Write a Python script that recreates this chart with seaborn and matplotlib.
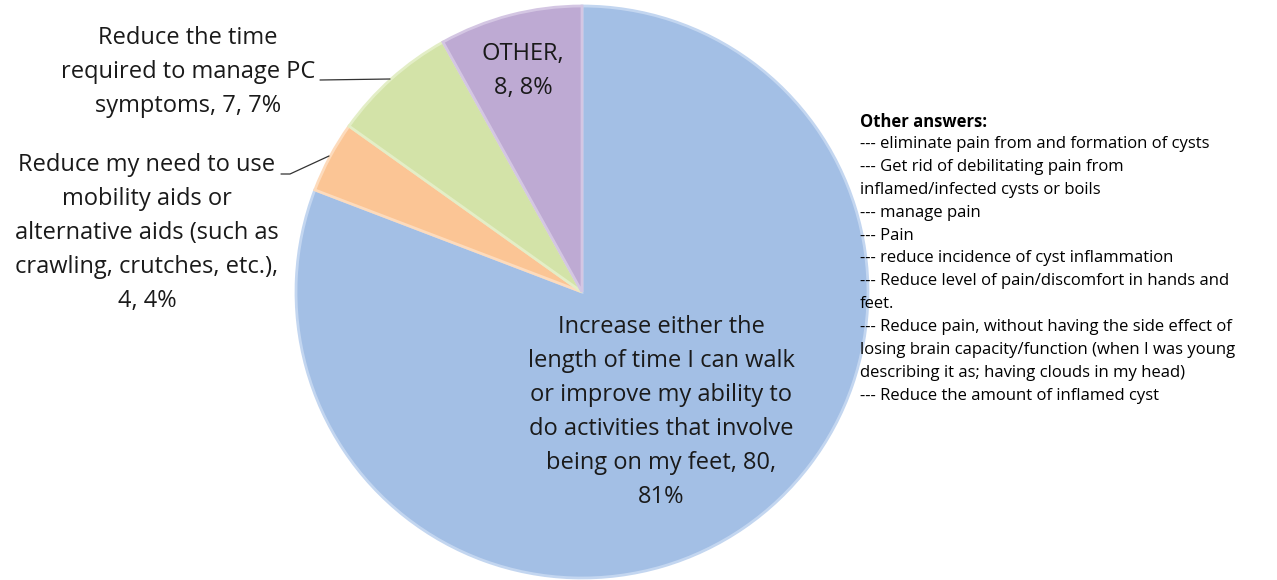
import matplotlib
matplotlib.use('Agg')
import seaborn as sns
from matplotlib import pyplot as plt

sns.set_theme(style='white')
plt.rcParams['font.family'] = ['Open Sans', 'DejaVu Sans']

# data
labels = ['Increase either the\nlength of time I can walk\nor improve my ability to\ndo activities that involve\nbeing on my feet, 80,\n81%',
          'Reduce my need to use\nmobility aids or\nalternative aids (such as\ncrawling, crutches, etc.),\n4, 4%',
          'Reduce the time\nrequired to manage PC\nsymptoms, 7, 7%',
          'OTHER,\n8, 8%']
counts = [80, 4, 7, 8]
colors = ['#A3BFE5', '#FBC595', '#D3E3A8', '#BEAAD3']
edges = ['#C3D6F0', '#FDDBBC', '#E3EEC6', '#D4C6E3']

other_answers = ['--- eliminate pain from and formation of cysts',
                 '--- Get rid of debilitating pain from',
                 'inflamed/infected cysts or boils',
                 '--- manage pain',
                 '--- Pain',
                 '--- reduce incidence of cyst inflammation',
                 '--- Reduce level of pain/discomfort in hands and',
                 'feet.',
                 '--- Reduce pain, without having the side effect of',
                 'losing brain capacity/function (when I was young',
                 'describing it as; having clouds in my head)',
                 '--- Reduce the amount of inflamed cyst']

W, H = 1277, 580
fig = plt.figure(figsize=(W / 100, H / 100), dpi=100)
fig.patch.set_facecolor('white')


def px(x, y):
    return x / W, 1 - y / H


cx, cy, r = 582, 292, 286
ax = fig.add_axes([(cx - r) / W, (H - cy - r) / H, 2 * r / W, 2 * r / H])
wedges, _ = ax.pie(counts, colors=colors, startangle=90, counterclock=False,
                   wedgeprops=dict(linewidth=2))
for w, e in zip(wedges, edges):
    w.set_edgecolor(e)
ax.set_xlim(-1, 1)
ax.set_ylim(-1, 1)
ax.set_aspect('equal')
ax.axis('off')

tc = '#1a1a1a'
fs = 17
ls = 1.55
# inside labels
fig.text(*px(661, 412), labels[0], ha='center', va='center', fontsize=fs,
         color=tc, linespacing=ls)
fig.text(*px(523, 71), labels[3], ha='center', va='center', fontsize=fs,
         color=tc, linespacing=ls)
# outside labels
fig.text(*px(188, 72), labels[2], ha='center', va='center', fontsize=fs,
         color=tc, linespacing=ls)
fig.text(*px(147, 233), labels[1], ha='center', va='center', fontsize=fs,
         color=tc, linespacing=ls)

# leader lines
fig.add_artist(plt.Line2D([320 / W, 390 / W], [1 - 80 / H, 1 - 79 / H],
                          color='#333333', lw=0.9))
fig.add_artist(plt.Line2D([281 / W, 290 / W, 329 / W],
                          [1 - 174 / H, 1 - 174 / H, 1 - 156 / H],
                          color='#333333', lw=0.9))

# other answers block
fig.text(*px(860, 122), 'Other answers:', ha='left', va='center',
         fontsize=12, fontweight='bold', color='black')
for i, line in enumerate(other_answers):
    fig.text(*px(860, 144 + i * 22.9), line, ha='left', va='center',
             fontsize=12, color='black')

fig.savefig('out.png', dpi=100)
